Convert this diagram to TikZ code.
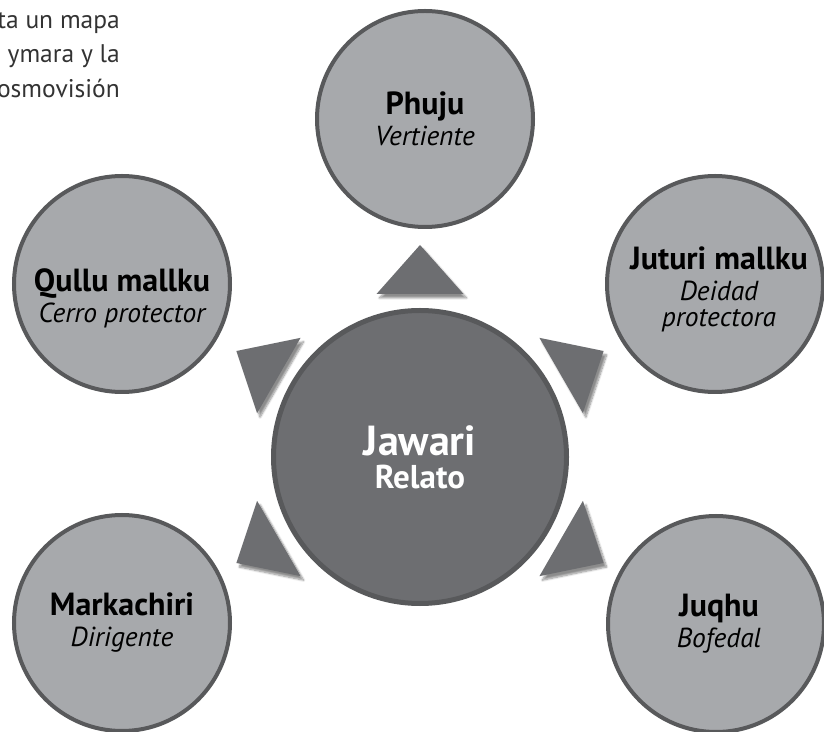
\documentclass[tikz,border=0pt]{standalone}
\usepackage{fontspec}
\setmainfont{PT Sans}
\usetikzlibrary{shadows.blur}
\definecolor{gris}{HTML}{A7A9AC}
\definecolor{grisosc}{HTML}{6D6E71}
\definecolor{borde}{HTML}{58595B}
\tikzset{
  satelite/.style = {circle, draw = borde, fill = gris, line width = 4pt, minimum size = 216pt, inner sep = 0pt},
  centro/.style = {circle, draw = borde, fill = grisosc, line width = 5pt, minimum size = 293pt, inner sep = 0pt},
  rotulo/.style = {align = center, inner sep = 0pt, font = \fontsize{27}{31}\selectfont},
  linea/.style = {anchor = base east, inner sep = 0pt, text = black!80, font = \fontsize{25.5}{30}\selectfont},
  flecha/.style = {fill = grisosc, blur shadow = {shadow xshift = 3pt, shadow yshift = -4pt, shadow opacity = 45, shadow blur steps = 8}}
}
\newcommand{\nombre}[1]{{\fontsize{32}{31}\selectfont\bfseries #1}}
\newcommand{\sentido}[1]{{\fontsize{27.5}{31}\selectfont\itshape #1}}

\begin{document}
\begin{tikzpicture}[x = 1pt, y = 1pt]
\clip (0,0) rectangle (824,731);
\node [linea] (linea1) at (120,702) {ta un mapa};
\node [linea] (linea2) at (120,668) {ymara y la};
\node [linea] (linea3) at (120,633) {osmovisión};
\foreach \a in {90,30,150,210,330}
  \fill [flecha, shift = {(420,274)}, rotate = \a] (163,43.5) -- (212,0) -- (163,-43.5) -- cycle;
\node [centro] (jawari) at (420,274) {};
\node [rotulo, text = white] (jawari-txt) at (jawari.center) {{\fontsize{42}{40}\selectfont\bfseries Jawari}\\[2pt]{\fontsize{33}{30}\selectfont\bfseries Relato}};
\node [satelite] (phuju) at (425,612) {};
\node [rotulo] (phuju-txt) at (phuju.center) {\nombre{Phuju}\\\sentido{Vertiente}};
\node [satelite] (qullu) at (122,447) {};
\node [rotulo] (qullu-txt) at ([yshift = -14]qullu.center) {\nombre{Qullu mallku}\\\sentido{Cerro protector}};
\node [satelite] (juturi) at (715,447) {};
\node [rotulo] (juturi-txt) at ([xshift = 4, yshift = -5]juturi.center) {\nombre{Juturi mallku}\\\sentido{Deidad}\\[-5pt]\sentido{protectora}};
\node [satelite] (markachiri) at (122,108) {};
\node [rotulo] (markachiri-txt) at (markachiri.center) {\nombre{Markachiri}\\\sentido{Dirigente}};
\node [satelite] (juqhu) at (716,107) {};
\node [rotulo] (juqhu-txt) at ([xshift = 3]juqhu.center) {\nombre{Juqhu}\\\sentido{Bofedal}};
\end{tikzpicture}
\end{document}
